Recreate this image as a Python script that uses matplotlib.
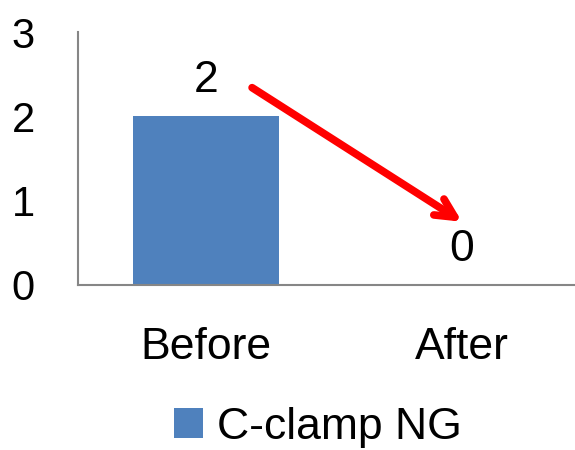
import matplotlib.pyplot as plt

categories = ['Before', 'After']
values = [2, 0]
series_name = 'C-clamp NG'
y_ticks = [0, 1, 2, 3]

bar_color = '#4F81BD'
axis_color = '#868686'


def main():
    plt.rcParams['font.family'] = ['Liberation Sans', 'DejaVu Sans']

    fig = plt.figure(figsize=(5.75, 4.5), dpi=100)
    ax = fig.add_axes([78 / 575, 165 / 450, 512 / 575, 253 / 450])

    x = list(range(len(categories)))
    bars = ax.bar(x, values, width=0.57, color=bar_color, label=series_name)
    ax.bar_label(bars, padding=11, fontsize=32)

    ax.set_xlim(-0.5, 1.5)
    ax.set_ylim(0, 3)
    ax.set_yticks(y_ticks)
    ax.set_xticks(x)
    ax.set_xticklabels(categories)
    ax.tick_params(axis='y', length=0, pad=31, labelsize=30)
    ax.tick_params(axis='x', length=0, pad=30, labelsize=32)

    for side in ['top', 'right']:
        ax.spines[side].set_visible(False)
    for side in ['left', 'bottom']:
        ax.spines[side].set_color(axis_color)
        ax.spines[side].set_linewidth(1.5)

    # red arrow from the "before" label down to the "after" label
    ax.annotate('', xy=(1.0, 0.75), xytext=(0.18, 2.34),
                arrowprops=dict(arrowstyle='->', color='#FF0000', lw=5.5,
                                mutation_scale=34, shrinkA=0, shrinkB=0,
                                capstyle='round', joinstyle='round'))

    fig.legend(loc='center', bbox_to_anchor=(318 / 575, 1 - 427 / 450),
               frameon=False, fontsize=32, handlelength=0.65, handleheight=0.65,
               handletextpad=0.3)

    fig.savefig('out.png', dpi=100)


if __name__ == '__main__':
    main()
